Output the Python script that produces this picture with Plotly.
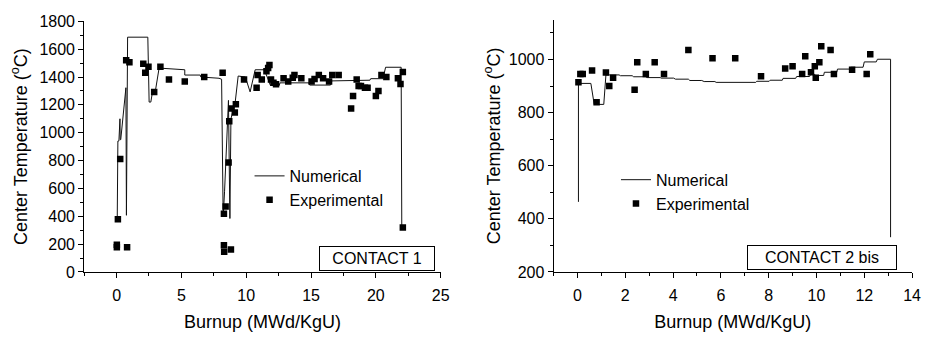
import plotly.graph_objects as go

# ---------------- CONTACT 1 ----------------
num1_x = [0.05, 0.10, 0.18, 0.26, 0.28, 0.32, 0.72, 0.76, 0.85, 2.41, 2.51, 2.64, 2.77, 3.02, 3.28,
          5.26, 5.26, 6.45, 6.50, 7.90, 8.10, 8.22, 8.33, 8.58, 8.63, 8.74, 8.82, 9.05, 9.15, 9.38,
          9.93, 10.30, 10.69, 11.40, 11.87, 12.55, 12.60, 14.84, 14.90, 16.50, 16.60, 19.54, 19.60,
          20.55, 20.75, 21.95, 22.00]
num1_y = [384, 940, 941, 1100, 950, 950, 1323, 407, 1686, 1686, 1220, 1220, 1293, 1316, 1464,
          1452, 1414, 1414, 1400, 1391, 1384, 395, 580, 1232, 1232, 384, 1100, 1180, 1220, 1407,
          1400, 1293, 1452, 1452, 1339, 1339, 1358, 1358, 1342, 1342, 1372, 1377, 1388,
          1388, 1470, 1470, 320]

exp1_x = [0.02, 0.02, 0.10, 0.28, 0.74, 0.81, 0.99, 2.06, 2.21, 2.46, 2.90, 3.38, 4.04, 5.26, 6.76,
          8.18, 8.28, 8.28, 8.30, 8.41, 8.64, 8.69, 8.82, 8.87, 9.12, 9.20, 9.83, 10.80, 10.88, 11.20,
          11.56, 11.69, 11.79, 11.91, 12.10, 12.30, 12.88, 13.24, 13.59, 13.72, 14.25, 15.04, 15.27,
          15.60, 15.93, 16.39, 16.64, 17.13, 18.09, 18.24, 18.52, 18.67, 18.85, 19.16, 19.36, 20.00,
          20.20, 20.43, 20.81, 21.70, 21.90, 22.08, 22.08]
exp1_y = [196, 177, 379, 811, 1520, 177, 1505, 1495, 1430, 1473, 1293, 1473, 1382, 1368, 1400,
          1430, 418, 191, 145, 470, 786, 1082, 162, 1173, 1145, 1205, 1382, 1323, 1414, 1382,
          1441, 1464, 1486, 1382, 1359, 1348, 1391, 1368, 1395, 1414, 1391, 1368, 1386,
          1414, 1391, 1368, 1414, 1414, 1173, 1264, 1382, 1336, 1336, 1323, 1323, 1264,
          1300, 1414, 1400, 1391, 1350, 1436, 320]

# ---------------- CONTACT 2 bis ----------------
num2_x = [0.04, 0.04, 0.56, 0.70, 1.10, 1.19, 1.74, 1.80, 2.29, 2.35, 2.84, 2.90, 3.46, 3.50, 4.02,
          4.10, 4.64, 4.70, 5.20, 5.30, 5.75, 5.80, 7.46, 7.50, 8.02, 8.06, 8.57, 8.60, 9.13, 9.17,
          9.71, 9.75, 9.93, 9.97, 10.30, 10.33, 10.85, 10.88, 11.40, 11.43, 11.95, 12.00, 12.50,
          12.55, 13.10, 13.10]
num2_y = [464, 910, 910, 831, 831, 942, 942, 939, 939, 935, 935, 932, 932, 930, 930,
          926, 926, 921, 921, 917, 917, 914, 914, 918, 918, 922, 922, 929, 929, 936,
          936, 944, 944, 940, 940, 952, 952, 964, 964, 971, 971, 991, 991,
          1001, 1001, 331]

exp2_x = [0.04, 0.12, 0.22, 0.61, 0.80, 1.19, 1.33, 1.49, 2.39, 2.50, 2.86, 3.23, 3.62, 4.64, 5.65,
          6.60, 7.68, 8.69, 9.00, 9.40, 9.53, 9.77, 9.93, 9.97, 10.12, 10.20, 10.59, 10.73, 11.49,
          12.10, 12.25]
exp2_y = [914, 945, 945, 959, 839, 951, 900, 931, 886, 990, 945, 990, 945, 1036, 1005,
          1005, 937, 966, 975, 945, 1012, 952, 975, 931, 990, 1050, 1036, 945, 961,
          945, 1020]

labels = ["Numerical", "Experimental"]
box_texts = ["CONTACT 1", "CONTACT 2 bis"]
x_title = "Burnup (MWd/KgU)"
y_title = "Center Temperature (<sup>o</sup>C)"

FONT = "Liberation Sans, Arial, sans-serif"
W, H = 929, 337

fig = go.Figure()
fig.add_trace(go.Scatter(x=num1_x, y=num1_y, mode="lines", name=labels[0],
                         line=dict(color="#111", width=1), xaxis="x", yaxis="y", legend="legend"))
fig.add_trace(go.Scatter(x=exp1_x, y=exp1_y, mode="markers", name=labels[1],
                         marker=dict(symbol="square", size=6.5, color="black"),
                         xaxis="x", yaxis="y", legend="legend"))
fig.add_trace(go.Scatter(x=num2_x, y=num2_y, mode="lines", name=labels[0],
                         line=dict(color="#111", width=1), xaxis="x2", yaxis="y2", legend="legend2"))
fig.add_trace(go.Scatter(x=exp2_x, y=exp2_y, mode="markers", name=labels[1],
                         marker=dict(symbol="square", size=6.5, color="black"),
                         xaxis="x2", yaxis="y2", legend="legend2"))

def xax(domain, rng, dtick, mdtick):
    return dict(domain=domain, range=rng, dtick=dtick, tick0=0, showgrid=False, zeroline=False,
                showline=True, linecolor="black", linewidth=1, ticks="outside", ticklen=5,
                tickcolor="black", tickfont=dict(size=16, color="black"), ticklabelstandoff=4,
                minor=dict(ticks="outside", ticklen=3, dtick=mdtick, tickcolor="black", showgrid=False),
                title=dict(text=x_title, font=dict(size=18, color="black"), standoff=12))

def yax(domain, rng, anchor, standoff):
    return dict(domain=domain, range=rng, dtick=200, tick0=0, showgrid=False, zeroline=False,
                showline=True, linecolor="black", linewidth=1, ticks="outside", ticklen=5,
                tickcolor="black", tickfont=dict(size=16, color="black"), anchor=anchor,
                minor=dict(ticks="outside", ticklen=3, dtick=100, tickcolor="black", showgrid=False),
                title=dict(text=y_title, font=dict(size=18, color="black"), standoff=standoff))

ydom = [1 - 278 / H, 1 - 14 / H]
fig.update_layout(
    width=W, height=H, margin=dict(l=0, r=0, t=0, b=0),
    paper_bgcolor="white", plot_bgcolor="white",
    font=dict(family=FONT, size=16, color="black"),
    xaxis=dict(xax([85 / W, 445 / W], [-2.5, 25], 5, 2.5), anchor="y"),
    yaxis=yax(ydom, [0, 1800], "x", 7),
    xaxis2=dict(xax([559 / W, 921 / W], [-1, 14], 2, 1), anchor="y2"),
    yaxis2=yax([1 - 278 / H, 1 - 12.3 / H], [200, 1150], "x2", 3),
    legend=dict(x=252 / W, y=1 - 159 / H, xanchor="left", yanchor="top",
                bgcolor="rgba(0,0,0,0)", font=dict(size=16), tracegroupgap=0, itemwidth=30),
    legend2=dict(x=622 / W, y=1 - 163 / H, xanchor="left", yanchor="top",
                 bgcolor="rgba(0,0,0,0)", font=dict(size=16), tracegroupgap=0, itemwidth=30),
    annotations=[
        dict(x=20.05, y=99, xref="x", yref="y", text=box_texts[0], showarrow=False,
             font=dict(size=16, color="black"), bordercolor="black", borderwidth=1,
             width=114, height=23, borderpad=0, bgcolor="white"),
        dict(x=10.23, y=253, xref="x2", yref="y2", text=box_texts[1], showarrow=False,
             font=dict(size=16, color="black"), bordercolor="black", borderwidth=1,
             width=148, height=23, borderpad=0, bgcolor="white"),
    ],
)

fig.write_html("out.html", config={"displayModeBar": False},
               post_script="document.body.style.margin='0';")
